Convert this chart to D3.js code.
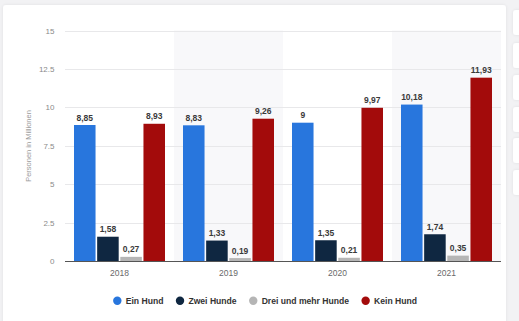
<!DOCTYPE html>
<html><head><meta charset="utf-8">
<script src="https://cdn.jsdelivr.net/npm/d3@7"></script>
<style>
html,body{margin:0;padding:0;background:#f2f2f4;}
svg{display:block;font-family:"Liberation Sans",Arial,sans-serif;}
</style></head>
<body><svg id="c" width="519" height="321"></svg>
<script>
const years = ["2018","2019","2020","2021"];
const seriesNames = ["Ein Hund","Zwei Hunde","Drei und mehr Hunde","Kein Hund"];
const einHund = [8.85, 8.83, 9, 10.18];
const zweiHunde = [1.58, 1.33, 1.35, 1.74];
const dreiHunde = [0.27, 0.19, 0.21, 0.35];
const keinHund = [8.93, 9.26, 9.97, 11.93];
const yTicks = [0, 2.5, 5, 7.5, 10, 12.5, 15];
const colors = ["#2876dd", "#0f2741", "#b5b5b5", "#a30b0b"];
const seriesValues = [einHund, zweiHunde, dreiHunde, keinHund];

const svg = d3.select("#c");
// card + side buttons
const defs = svg.append("defs");
const f = defs.append("filter").attr("id","sh").attr("x","-20%").attr("y","-20%").attr("width","140%").attr("height","140%");
f.append("feDropShadow").attr("dx",0).attr("dy",0).attr("stdDeviation",1.5).attr("flood-color","#000").attr("flood-opacity",0.08);
svg.append("rect").attr("x",3).attr("y",5).attr("width",503).attr("height",330).attr("rx",3).attr("fill","#fff").attr("filter","url(#sh)");
[10,43,75,107,138,170].forEach(y=>{
  svg.append("rect").attr("x",513).attr("y",y).attr("width",16).attr("height",25).attr("rx",3).attr("fill","#fff").attr("filter","url(#sh)");
});

const x0 = 65, x1 = 501, yTop = 30.5, yBot = 261;
const x = d3.scaleBand().domain(years).range([x0, x1]).padding(0);
const xs = d3.scaleBand().domain(seriesNames).range([9, 100]).paddingInner(0.07);
const y = d3.scaleLinear().domain([0, 15]).range([yBot, yTop]);

// alternating bands
svg.append("g").selectAll("rect").data(years.filter((d,i)=>i%2===1)).join("rect")
  .attr("x", d=>x(d)).attr("y", yTop).attr("width", x.bandwidth()).attr("height", yBot-yTop)
  .attr("fill", "#f8f8fa");

// grid
svg.append("g").selectAll("line").data(yTicks.filter(t=>t>0)).join("line")
  .attr("x1", x0).attr("x2", x1).attr("y1", d=>Math.round(y(d))+0.5).attr("y2", d=>Math.round(y(d))+0.5)
  .attr("stroke", "#e8e8ea").attr("stroke-width", 1);

// y tick labels
svg.append("g").selectAll("text").data(yTicks).join("text")
  .attr("x", 54.5).attr("y", d=>y(d)+3).attr("text-anchor","end")
  .attr("font-size", 8).attr("fill", "#8a8a8a")
  .text(d=>String(d).replace(".", "."));

// axis title
svg.append("text").attr("transform","translate(31,146) rotate(-90)")
  .attr("text-anchor","middle").attr("font-size",7.5).attr("fill","#9a9a9a")
  .text("Personen in Millionen");

// bars
const fmt = v => String(v).replace(".", ",");
const data = [];
years.forEach((yr,i)=>seriesNames.forEach((s,j)=>data.push({yr, s, j, v: seriesValues[j][i]})));
const g = svg.append("g");
g.selectAll("rect").data(data).join("rect")
  .attr("x", d=>x(d.yr)+xs(d.s)).attr("width", xs.bandwidth())
  .attr("y", d=>y(d.v)).attr("height", d=>yBot-y(d.v))
  .attr("fill", d=>colors[d.j]);
g.selectAll("text").data(data).join("text")
  .attr("x", d=>x(d.yr)+xs(d.s)+xs.bandwidth()/2).attr("y", d=>y(d.v)-4.5)
  .attr("text-anchor","middle").attr("font-size",8.5).attr("font-weight","bold").attr("fill","#3a3a3a")
  .text(d=>fmt(d.v));

// axis line
svg.append("line").attr("x1",x0).attr("x2",x1).attr("y1",yBot+0.5).attr("y2",yBot+0.5)
  .attr("stroke","#555").attr("stroke-width",1.2);

// x labels
svg.append("g").selectAll("text").data(years).join("text")
  .attr("x", d=>x(d)+x.bandwidth()/2).attr("y", 275.5).attr("text-anchor","middle")
  .attr("font-size",8.5).attr("fill","#6a6a6a").text(d=>d);

// legend
const lg = svg.append("g");
let cx = 117.3;
seriesNames.forEach((s,j)=>{
  lg.append("circle").attr("cx",cx).attr("cy",300.7).attr("r",4.2).attr("fill",colors[j]);
  const t = lg.append("text").attr("x",cx+8.4).attr("y",303.8).attr("font-size",8.6).attr("font-weight","bold")
    .attr("fill","#333").text(s);
  const w = t.node().getComputedTextLength();
  cx = cx + 8.4 + w + 12.4 + 4.2;
});
</script></body></html>
